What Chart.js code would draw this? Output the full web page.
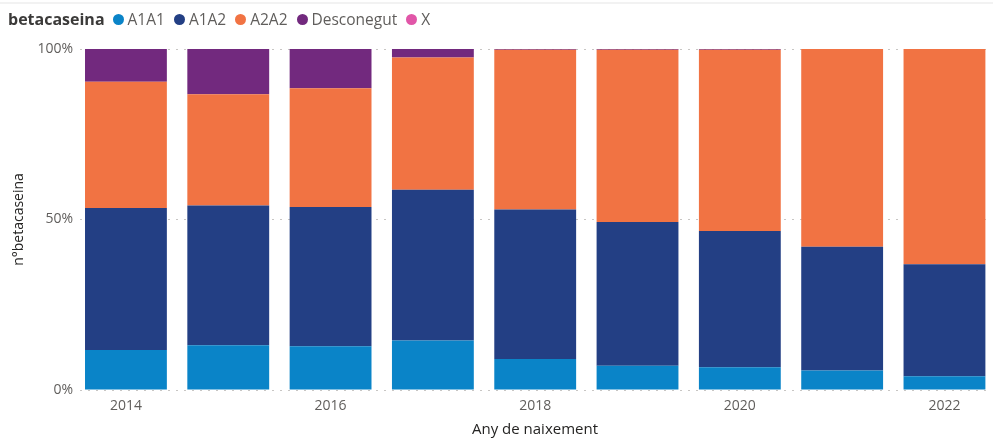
<!DOCTYPE html>
<html>
<head>
<meta charset="utf-8">
<script src="https://cdn.jsdelivr.net/npm/chart.js@4"></script>
<style>
  html, body { margin: 0; padding: 0; background: #fff; }
  #wrap { position: relative; width: 993px; height: 441px; overflow: hidden; font-family: 'Open Sans', sans-serif; }
  #topline { position: absolute; left: 0; top: 2px; width: 993px; height: 2px; background: #f2f2f2; }
  #legend { position: absolute; left: 8px; top: 7px; height: 24px; display: flex; align-items: center; font-size: 15.5px; color: #605E5C; white-space: nowrap; }
  #legend .ttl { font-weight: bold; font-size: 16px; letter-spacing: 0px; color: #3b3a39; margin-right: 8px; }
  #legend .item { display: flex; align-items: center; margin-right: 9px; }
  #legend .dot { width: 11px; height: 11px; border-radius: 50%; margin-right: 4px; }
  canvas { position: absolute; left: 0; top: 0; }
</style>
</head>
<body>
<div id="wrap">
  <div id="topline"></div>
  <canvas id="c" width="993" height="441"></canvas>
  <div id="legend"></div>
</div>
<script>
// ---- data (percent share per year) ----
const legendTitle = 'betacaseina';
const years = [2014, 2015, 2016, 2017, 2018, 2019, 2020, 2021, 2022];
const seriesNames = ['A1A1', 'A1A2', 'A2A2', 'Desconegut', 'X'];
const a1a1 = [11.7, 13.1, 12.8, 14.5, 9.1, 7.1, 6.7, 5.7, 4.0];
const a1a2 = [41.7, 41.0, 40.9, 44.2, 43.8, 42.2, 39.9, 36.3, 32.9];
const a2a2 = [37.0, 32.6, 34.8, 38.8, 46.9, 50.5, 53.2, 58.0, 63.1];
const desconegut = [9.6, 13.3, 11.5, 2.5, 0.2, 0.2, 0.2, 0, 0];
const xSeries = [0, 0, 0, 0, 0, 0, 0, 0, 0];
const yTicks = [0, 50, 100];
const xTickStep = 2;
const yTitle = 'n°betacaseina';
const xTitle = 'Any de naixement';

const colors = ['#0a84c8', '#233f84', '#f17343', '#72297e', '#e156a8'];
const values = [a1a1, a1a2, a2a2, desconegut, xSeries];

// legend (HTML, real text)
const lg = document.getElementById('legend');
const t = document.createElement('span'); t.className = 'ttl'; t.textContent = legendTitle; lg.appendChild(t);
seriesNames.forEach((n, i) => {
  const it = document.createElement('span'); it.className = 'item';
  const d = document.createElement('span'); d.className = 'dot'; d.style.background = colors[i];
  const s = document.createElement('span'); s.textContent = n;
  it.appendChild(d); it.appendChild(s); lg.appendChild(it);
});

const font = 'Open Sans';
new Chart(document.getElementById('c'), {
  type: 'bar',
  data: {
    labels: years,
    datasets: seriesNames.map((n, i) => ({
      label: n,
      data: values[i],
      backgroundColor: colors[i],
      borderWidth: 0,
      barPercentage: 0.8,
      categoryPercentage: 1.0
    }))
  },
  options: {
    responsive: false,
    animation: false,
    layout: { padding: { top: 49, right: 3, left: 0, bottom: 0 } },
    plugins: { legend: { display: false }, tooltip: { enabled: false } },
    scales: {
      x: {
        type: 'linear',
        stacked: true,
        offset: false,
        min: 2013.551,
        max: 2022.445,
        grid: { display: false, drawTicks: false },
        border: { display: false },
        ticks: {
          stepSize: xTickStep,
          includeBounds: false,
          padding: 8,
          color: '#605E5C',
          font: { family: font, size: 14 },
          callback: v => String(v)
        },
        title: { display: true, text: xTitle, color: '#252423', font: { family: font, size: 15 }, padding: { top: 0, bottom: 2 } },
        afterFit: s => { s.height = 51; }
      },
      y: {
        stacked: true,
        min: 0,
        max: 100,
        afterBuildTicks: s => { s.ticks = yTicks.map(v => ({ value: v })); },
        grid: { color: '#c8c6c4', lineWidth: 1, drawTicks: false },
        border: { display: false, dash: [2, 6] },
        ticks: {
          padding: 7,
          color: '#605E5C',
          font: { family: font, size: 14 },
          callback: v => v + '%'
        },
        title: { display: true, text: yTitle, color: '#252423', font: { family: font, size: 14 }, padding: { top: 11, bottom: 0 } },
        afterFit: s => { s.width = 80; }
      }
    }
  }
});
</script>
</body>
</html>
